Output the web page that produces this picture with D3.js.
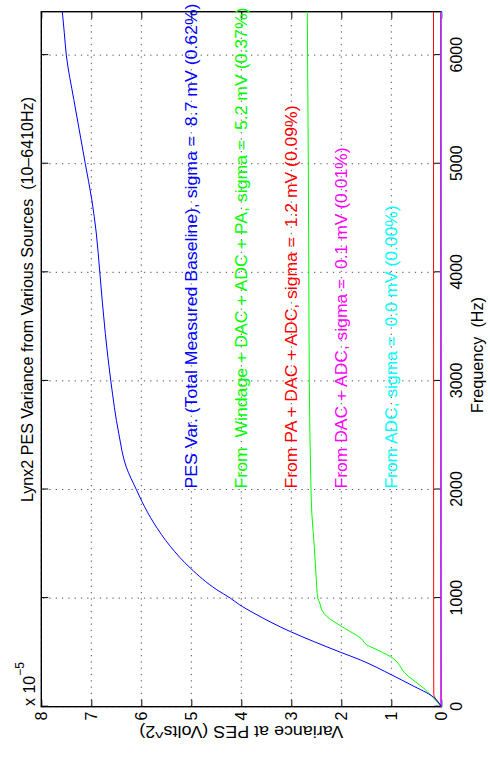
<!DOCTYPE html>
<html>
<head>
<meta charset="utf-8">
<script src="https://cdn.jsdelivr.net/npm/d3@7"></script>
<style>
  html, body { margin: 0; padding: 0; background: #fff; }
  svg { display: block; }
  text { font-family: "Liberation Sans", Arial, Helvetica, sans-serif; white-space: pre; }
</style>
</head>
<body>
<svg id="chart" width="490" height="761"></svg>
<script>
// ---- data (frequency in Hz, variance in units of 1e-5 V^2) ----
const freqTicks = [0, 1000, 2000, 3000, 4000, 5000, 6000];
const varTicks = [0, 1, 2, 3, 4, 5, 6, 7, 8];

const pesFreq = [0, 90, 200, 292, 431, 502, 600, 692, 862, 940, 1000, 1077, 1277, 1477, 1692, 1892, 2000, 2206, 2514, 3000, 3437, 4000, 4360, 4668, 5000, 5283, 5591, 6000, 6206, 6400];
const pesVar  = [0, 0.16, 0.6, 0.99, 1.62, 2.02, 2.55, 3.02, 3.75, 4.04, 4.22, 4.49, 5.02, 5.42, 5.75, 5.99, 6.1, 6.30, 6.45, 6.61, 6.72, 6.83, 6.90, 6.99, 7.12, 7.23, 7.35, 7.50, 7.54, 7.58];

const windFreq = [0, 62, 169, 292, 462, 538, 569, 622, 738, 831, 892, 954, 1000, 1169, 1477, 1785, 2092, 3000, 4000, 5000, 6400];
const windVar  = [0, 0.12, 0.35, 0.69, 1.02, 1.35, 1.49, 1.59, 1.99, 2.29, 2.39, 2.43, 2.47, 2.50, 2.54, 2.59, 2.61, 2.64, 2.65, 2.66, 2.68];

const paFreq = [0, 30, 70, 110, 300, 1000, 3000, 6400];
const paVar  = [0, 0.05, 0.11, 0.15, 0.152, 0.153, 0.154, 0.156];

const dacFreq = [0, 100, 1000, 6400];
const dacVar  = [0, 0.004, 0.008, 0.012];

const adcFreq = [0, 6400];
const adcVar  = [0, 0.0002];

const seriesColors = ["#0000ff", "#00ff00", "#ff0000", "#ff00ff", "#00ffff"];
const labelTexts = [
  "PES Var. (Total Measured Baseline), sigma =  8.7 mV (0.62%)",
  "From  Windage + DAC + ADC + PA, sigma =  5.2 mV (0.37%)",
  "From PA + DAC + ADC, sigma =  1.2 mV (0.09%)",
  "From DAC + ADC, sigma =  0.1 mV (0.01%)",
  "From ADC, sigma =  0.0 mV (0.00%)"
];
const labelFreq = [2000, 2000, 2000, 2000, 2000];
const labelVar  = [5, 4, 3, 2, 1];

const titleText = "Lynx2 PES Variance from Various Sources  (10\u20136410Hz)";
const xLabelText = "Frequency  (Hz)";
const yLabelText = "Variance at PES (Volts^2)";

// ---- layout (unrotated MATLAB frame 761 x 490, then rotated -90deg) ----
const W = 761, H = 490;
const plotL = 54.3, plotR = 749.3, plotT = 41.3, plotB = 441.3;
const labelLengths = [485, 481, 383, 341, 283];

const svg = d3.select("#chart");
const g = svg.append("g").attr("transform", `translate(0,${W}) rotate(-90)`);

const x = d3.scaleLinear().domain([0, 6400]).range([plotL, plotR]);
const y = d3.scaleLinear().domain([0, 8]).range([plotB, plotT]);

const font = 16;

// grid (dotted)
const grid = g.append("g").attr("stroke", "#555").attr("stroke-width", 1)
  .attr("stroke-dasharray", "1.3,5").attr("fill", "none");
grid.selectAll("line.gx").data(freqTicks).join("line")
  .attr("x1", d => x(d)).attr("x2", d => x(d)).attr("y1", plotB).attr("y2", plotT);
grid.selectAll("line.gy").data(varTicks).join("line")
  .attr("y1", d => y(d)).attr("y2", d => y(d)).attr("x1", plotL).attr("x2", plotR);

// axes
function styleAxis(sel) {
  sel.select(".domain").remove();
  sel.selectAll(".tick line").attr("stroke", "#000").attr("stroke-width", 1);
  sel.selectAll(".tick text").attr("fill", "#000").attr("font-size", font)
    .attr("font-family", '"Liberation Sans", Arial, Helvetica, sans-serif');
}
g.append("g").attr("transform", `translate(0,${plotB})`)
  .call(d3.axisBottom(x).tickValues(freqTicks).tickSizeInner(-7).tickSizeOuter(0).tickPadding(9).tickFormat(d3.format("d")))
  .call(styleAxis);
g.append("g").attr("transform", `translate(0,${plotT})`)
  .call(d3.axisTop(x).tickValues(freqTicks).tickSizeInner(-7).tickSizeOuter(0).tickFormat(""))
  .call(styleAxis);
g.append("g").attr("transform", `translate(${plotL},0)`)
  .call(d3.axisLeft(y).tickValues(varTicks).tickSizeInner(-7).tickSizeOuter(0).tickPadding(5).tickFormat(d3.format("d")))
  .call(styleAxis);
g.append("g").attr("transform", `translate(${plotR},0)`)
  .call(d3.axisRight(y).tickValues(varTicks).tickSizeInner(-7).tickSizeOuter(0).tickFormat(""))
  .call(styleAxis);

// box
g.append("rect").attr("x", plotL).attr("y", plotT)
  .attr("width", plotR - plotL).attr("height", plotB - plotT)
  .attr("fill", "none").attr("stroke", "#000").attr("stroke-width", 1.4);

// curves
const series = [
  [pesFreq, pesVar], [windFreq, windVar], [paFreq, paVar], [dacFreq, dacVar], [adcFreq, adcVar]
];
const line = d3.line().x(d => x(d[0])).y(d => y(d[1])).curve(d3.curveMonotoneX);
const drawOrder = [4, 3, 2, 1, 0];
drawOrder.forEach(i => {
  const [f, v] = series[i];
  const pts = f.map((fv, k) => [fv, v[k]]);
  g.append("path").datum(pts).attr("d", line)
    .attr("fill", "none").attr("stroke", seriesColors[i]).attr("stroke-width", i === 3 ? 1.4 : 1);
});

// annotations
labelTexts.forEach((t, i) => {
  g.append("text").attr("x", x(labelFreq[i]) + 1).attr("y", y(labelVar[i]) + 6)
    .attr("font-size", font).attr("fill", seriesColors[i])
    .attr("textLength", labelLengths[i]).attr("lengthAdjust", "spacingAndGlyphs")
    .text(t);
});

// title
g.append("text").attr("x", 259).attr("y", 33.3)
  .attr("font-size", font).attr("fill", "#000")
  .attr("textLength", 405).attr("lengthAdjust", "spacingAndGlyphs").text(titleText);

// x label
g.append("text").attr("x", 348).attr("y", 483)
  .attr("font-size", font).attr("fill", "#000")
  .attr("textLength", 116).attr("lengthAdjust", "spacingAndGlyphs").text(xLabelText);

// y label
g.append("text").attr("transform", `translate(35,${(plotT + plotB) / 2}) rotate(-90)`)
  .attr("x", -102)
  .attr("font-size", font).attr("fill", "#000")
  .attr("textLength", 204).attr("lengthAdjust", "spacingAndGlyphs").text(yLabelText);

// exponent label
const ex = g.append("text").attr("x", 55).attr("y", 35).attr("font-size", font).attr("fill", "#000");
ex.append("tspan").text("x 10");
ex.append("tspan").attr("dy", -11).attr("font-size", 12).text("\u22125");
</script>
</body>
</html>
